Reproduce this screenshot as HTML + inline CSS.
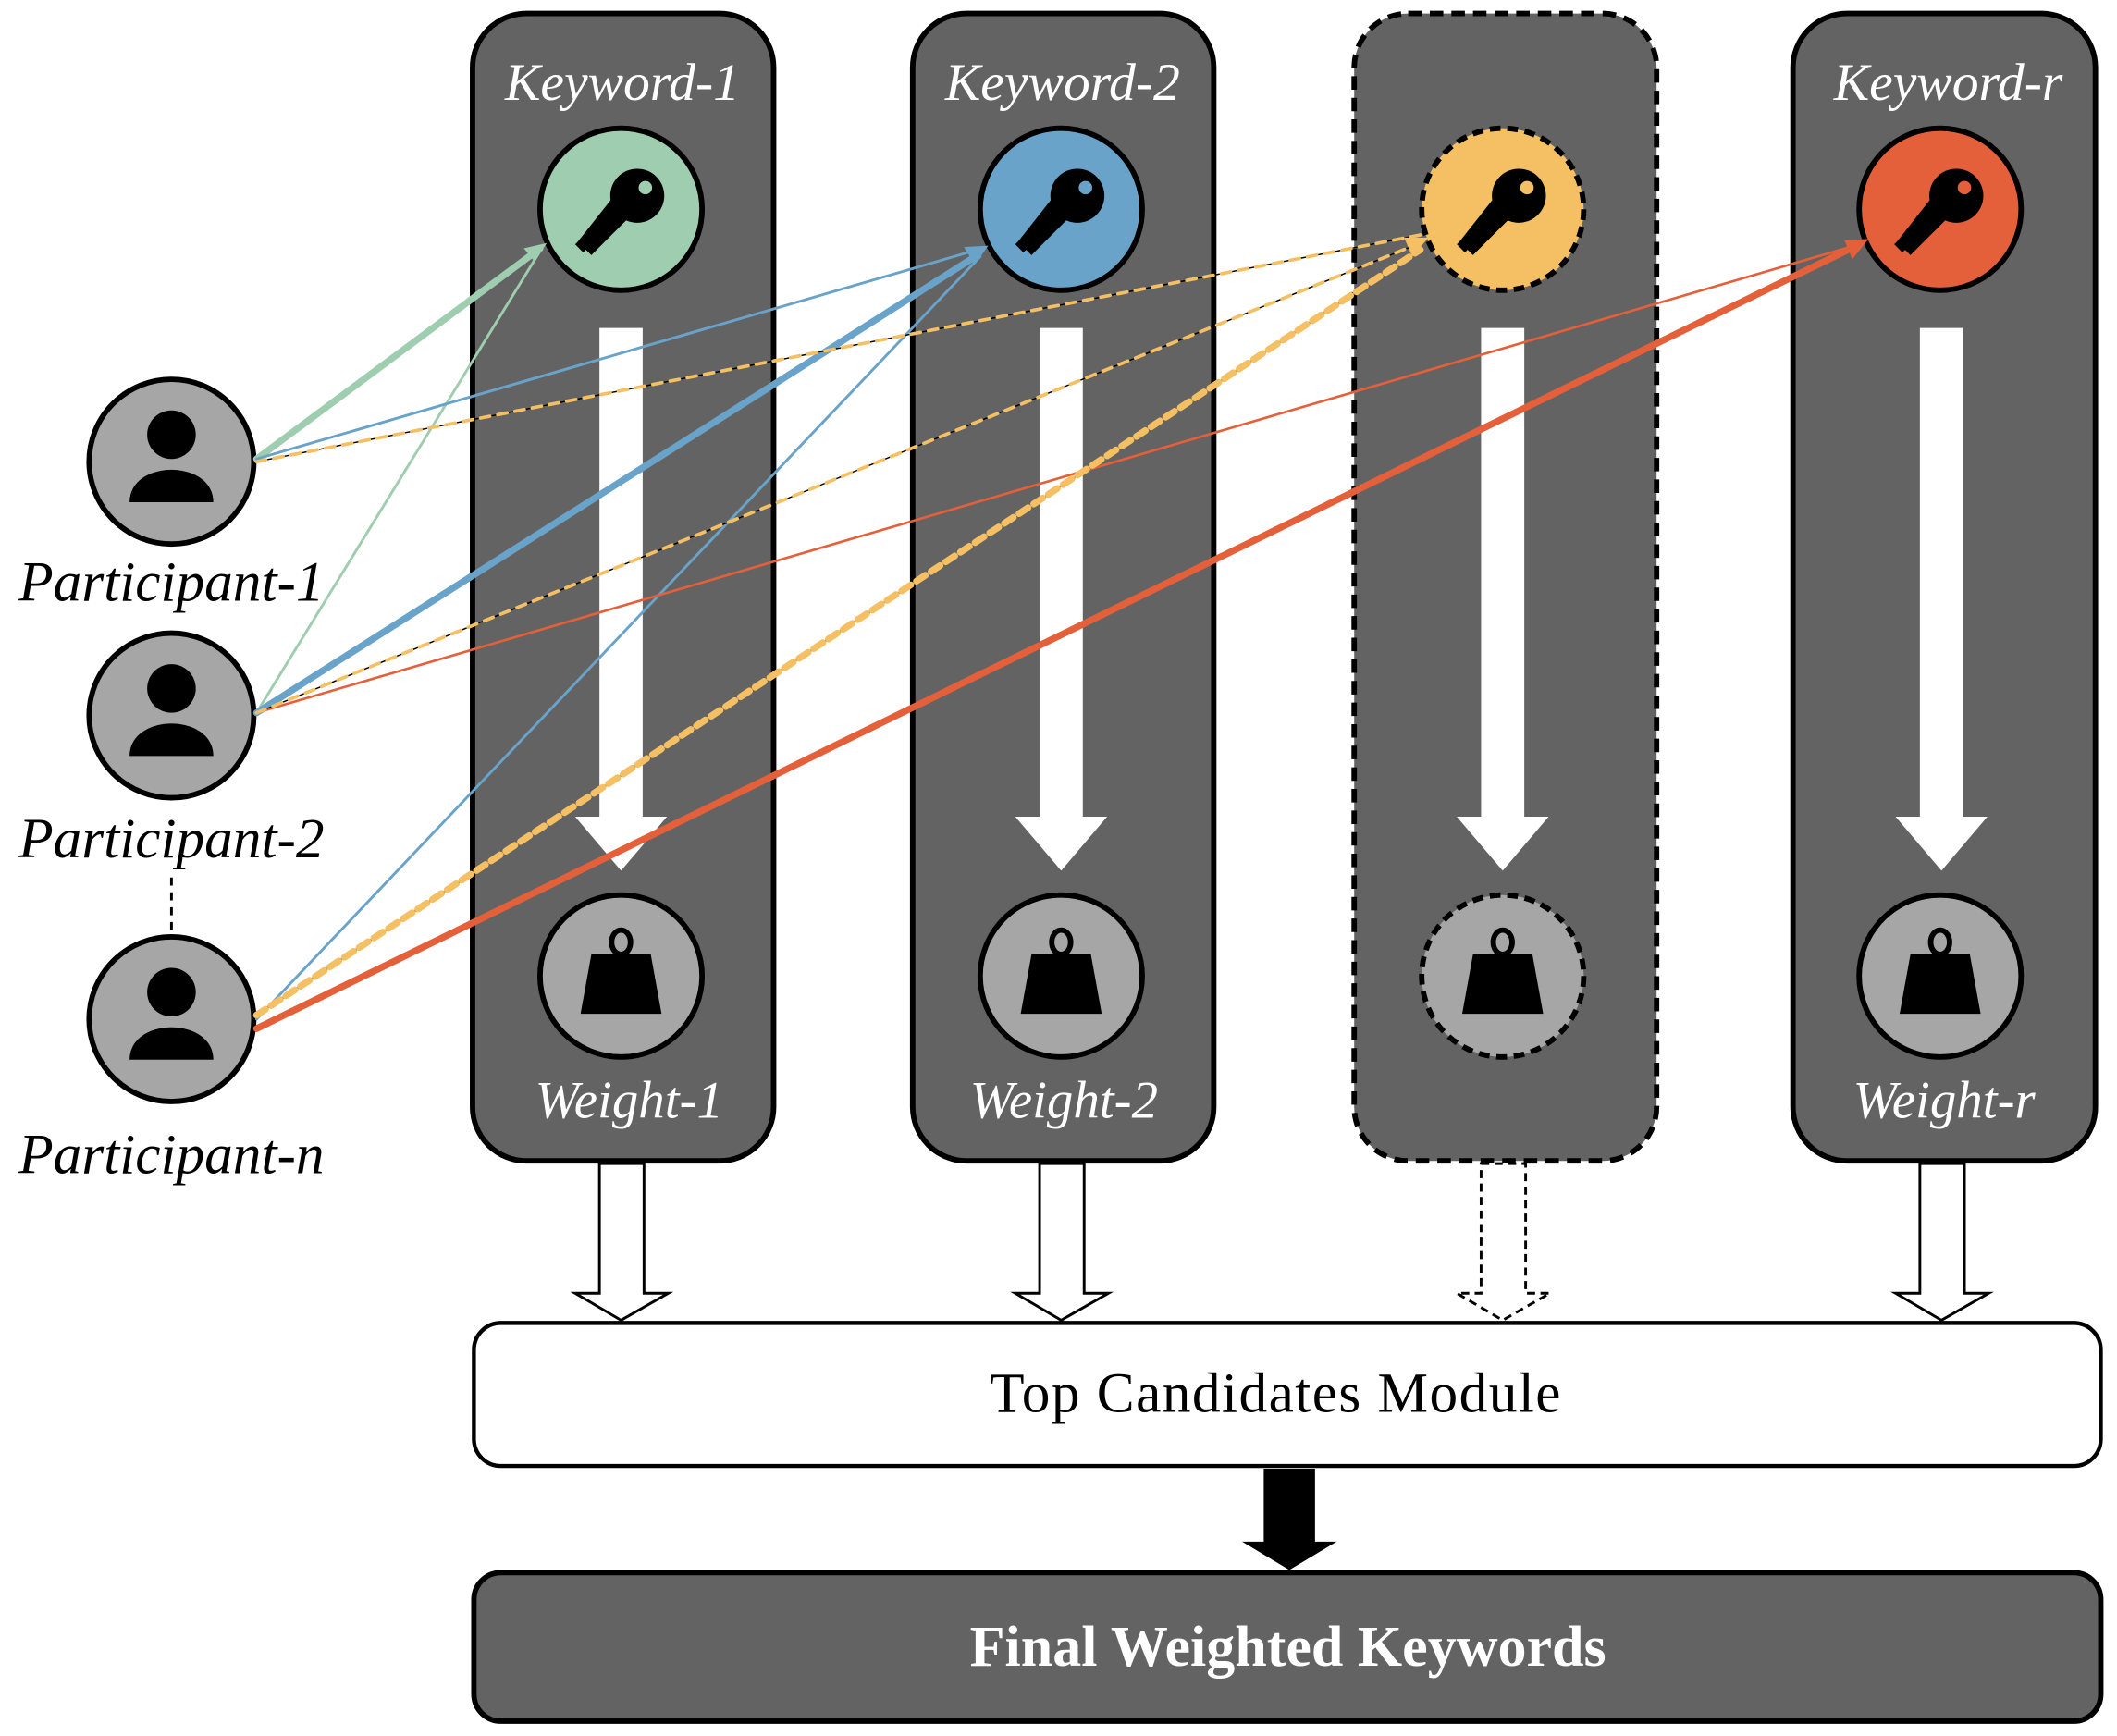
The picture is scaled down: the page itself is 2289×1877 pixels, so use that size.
<!DOCTYPE html>
<html><head><meta charset="utf-8"><style>html,body{margin:0;padding:0;background:#fff}svg{display:block}</style></head><body>
<svg width="2289" height="1877" viewBox="0 0 1568 1286" preserveAspectRatio="none" xmlns="http://www.w3.org/2000/svg">
<defs>
<g id="key">
<circle cx="12" cy="-10" r="20" fill="#000"/>
<circle cx="18" cy="-16" r="5" fill="currentColor"/>
<polygon points="-2,-14 8,4 -22,34 -32,24" fill="#000"/>
<polygon points="-30,22 -24,28 -28,32 -34,26" fill="#000"/>
</g>
<g id="weight">
<ellipse cx="0" cy="-28" rx="7" ry="9" fill="none" stroke="#000" stroke-width="4"/>
<polygon points="-22,-19 22,-19 30,25 -30,25" fill="#000"/>
</g>
<g id="person">
<circle cx="0" cy="-20" r="18" fill="#000"/>
<path d="M-31,30 C-31,-2 31,-2 31,30 Z" fill="#000"/>
</g>
</defs>
<g font-family="Liberation Serif, serif">
<rect x="350" y="10" width="223" height="850" rx="40" fill="#636363" stroke="#000" stroke-width="4"/>
<rect x="676" y="10" width="223" height="850" rx="40" fill="#636363" stroke="#000" stroke-width="4"/>
<rect x="1003" y="10" width="224" height="850" rx="40" fill="#636363" stroke="#000" stroke-width="4" stroke-dasharray="10,6"/>
<rect x="1328" y="10" width="224" height="850" rx="40" fill="#636363" stroke="#000" stroke-width="4"/>
<g fill="#fff" font-style="italic" font-size="39.5" text-anchor="middle">
<text x="461" y="74">Keyword-1</text><text x="787" y="74">Keyword-2</text><text x="1443" y="74">Keyword-r</text>
<text x="466" y="828" font-size="39">Weight-1</text><text x="788" y="828" font-size="39">Weight-2</text><text x="1440" y="828" font-size="39">Weight-r</text>
</g>
<g fill="#fff">
<polygon points="444,243 476,243 476,605 494,605 460,645 426,605 444,605"/>
<polygon points="770,243 802,243 802,605 820,605 786,645 752,605 770,605"/>
<polygon points="1097,243 1129,243 1129,605 1147,605 1113,645 1079,605 1097,605"/>
<polygon points="1422,243 1454,243 1454,605 1472,605 1438,645 1404,605 1422,605"/>
</g>
<circle cx="460" cy="155" r="60" fill="#9fcdaf" stroke="#000" stroke-width="4"/>
<circle cx="786" cy="155" r="60" fill="#6aa3c9" stroke="#000" stroke-width="4"/>
<circle cx="1113" cy="155" r="60" fill="#f5c063" stroke="#000" stroke-width="4" stroke-dasharray="8,5"/>
<circle cx="1437" cy="155" r="60" fill="#e4603a" stroke="#000" stroke-width="4"/>
<use href="#key" x="460" y="155" style="color:#9fcdaf"/><use href="#key" x="786" y="155" style="color:#6aa3c9"/><use href="#key" x="1113" y="155" style="color:#f5c063"/><use href="#key" x="1437" y="155" style="color:#e4603a"/>
<circle cx="460" cy="723" r="60" fill="#a6a6a6" stroke="#000" stroke-width="4"/>
<circle cx="786" cy="723" r="60" fill="#a6a6a6" stroke="#000" stroke-width="4"/>
<circle cx="1113" cy="723" r="60" fill="#a6a6a6" stroke="#000" stroke-width="4" stroke-dasharray="8,5"/>
<circle cx="1437" cy="723" r="60" fill="#a6a6a6" stroke="#000" stroke-width="4"/>
<use href="#weight" x="460" y="726"/><use href="#weight" x="786" y="726"/><use href="#weight" x="1113" y="726"/><use href="#weight" x="1437" y="726"/>
<circle cx="127" cy="342" r="61" fill="#a6a6a6" stroke="#000" stroke-width="4"/>
<circle cx="127" cy="530" r="61" fill="#a6a6a6" stroke="#000" stroke-width="4"/>
<circle cx="127" cy="755" r="61" fill="#a6a6a6" stroke="#000" stroke-width="4"/>
<use href="#person" x="127" y="342"/><use href="#person" x="127" y="530"/><use href="#person" x="127" y="755"/>
<line x1="127" y1="650" x2="127" y2="694" stroke="#000" stroke-width="2" stroke-dasharray="6,5"/>
<g font-style="italic" font-size="42" text-anchor="middle" fill="#000">
<text x="127" y="445">Participant-1</text><text x="127" y="635">Participant-2</text><text x="127" y="869">Participant-n</text>
</g>
<g fill="none" stroke-linecap="round">
<line x1="190" y1="340" x2="400" y2="184" stroke="#9fcdaf" stroke-width="5"/>
<line x1="190" y1="528" x2="400" y2="186" stroke="#9fcdaf" stroke-width="2"/>
<line x1="190" y1="340" x2="724" y2="185" stroke="#6aa3c9" stroke-width="2"/>
<line x1="190" y1="528" x2="724" y2="189" stroke="#6aa3c9" stroke-width="5"/>
<line x1="190" y1="755" x2="726" y2="190" stroke="#6aa3c9" stroke-width="2"/>
<line x1="190" y1="528" x2="1377" y2="181" stroke="#e4603a" stroke-width="1.8"/>
<line x1="190" y1="762" x2="1377" y2="181" stroke="#e4603a" stroke-width="5"/>
<line x1="190" y1="342" x2="1052" y2="174" stroke="#000" stroke-width="1"/>
<line x1="190" y1="342" x2="1052" y2="174" stroke="#f5c063" stroke-width="2.5" stroke-dasharray="7,6"/>
<line x1="190" y1="528" x2="1052" y2="180" stroke="#000" stroke-width="1"/>
<line x1="190" y1="528" x2="1052" y2="180" stroke="#f5c063" stroke-width="2.5" stroke-dasharray="7,6"/>
<line x1="190" y1="752" x2="1052" y2="185" stroke="#000" stroke-width="1.5"/>
<line x1="190" y1="752" x2="1052" y2="185" stroke="#f5c063" stroke-width="5" stroke-dasharray="8,5"/>
</g>
<polygon points="405,180 388,184 396,194" fill="#9fcdaf"/>
<polygon points="732,182 714,183 722,196" fill="#6aa3c9"/>
<polygon points="1058,176 1040,176 1046,190" fill="#f5c063"/>
<polygon points="1384,177 1366,178 1372,192" fill="#e4603a"/>
<g fill="#fff" stroke="#000" stroke-width="2">
<polygon points="444,862 477,862 477,958 495,958 460,978 426,958 444,958"/>
<polygon points="770,862 803,862 803,958 821,958 786,978 752,958 770,958"/>
<polygon points="1097,862 1130,862 1130,958 1148,958 1113,978 1079,958 1097,958" stroke-dasharray="6,4"/>
<polygon points="1422,862 1455,862 1455,958 1473,958 1438,978 1404,958 1422,958"/>
</g>
<rect x="351" y="980" width="1205" height="106" rx="20" fill="#fff" stroke="#000" stroke-width="3"/>
<text x="945" y="1046" font-size="42" text-anchor="middle" letter-spacing="1">Top Candidates Module</text>
<polygon points="936,1088 974,1088 974,1142 990,1142 955,1163 920,1142 936,1142" fill="#000"/>
<rect x="351" y="1165" width="1205" height="110" rx="20" fill="#636363" stroke="#000" stroke-width="4"/>
<text x="954" y="1234" font-size="42.5" font-weight="bold" fill="#fff" text-anchor="middle">Final Weighted Keywords</text>
</g>
</svg>
</body></html>
